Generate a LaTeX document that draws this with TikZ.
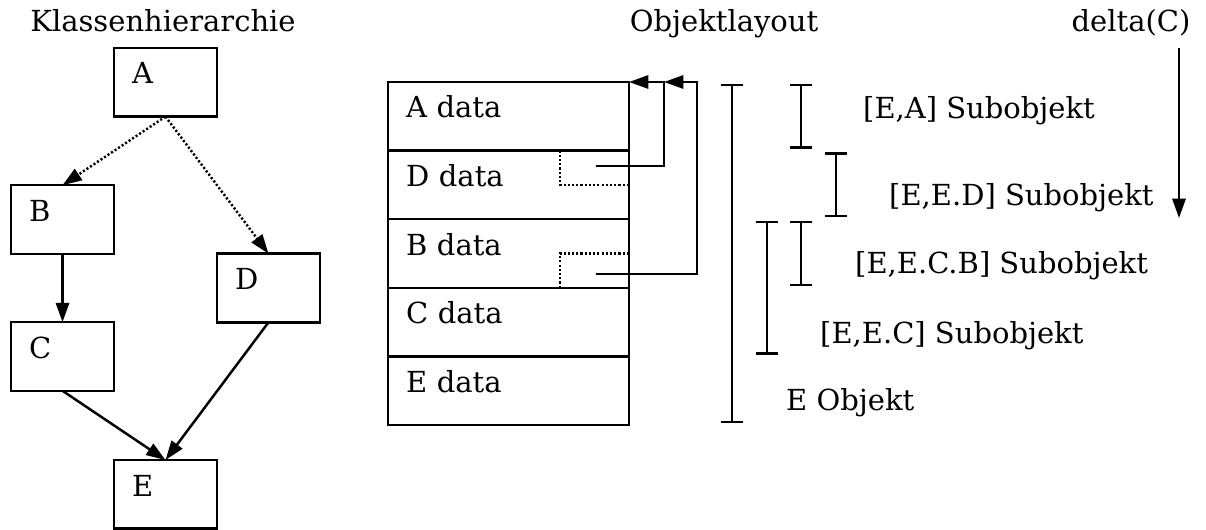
\documentclass[tikz,border=0pt]{standalone}
\usepackage{fontspec}
\setmainfont{DejaVu Serif}
\usetikzlibrary{arrows.meta}
\usetikzlibrary{positioning}
\usetikzlibrary{calc}
\tikzset{x=0.02cm, y=-0.02cm, % one unit is one pixel of the sketch, y runs downwards
         box/.style={ % rectangle with its text in the upper left corner
           draw, rectangle, align=left, outer sep=0pt,
           inner xsep=0.36cm, inner ysep=0pt,
           text height=0.72cm, text depth=0.652cm},
         klasse/.style={box, text width=1.34cm},  % class boxes
         zeile/.style={box, text width=4.1cm},    % rows of the object layout
         spitze/.style={-{Triangle[length=11pt,width=7.5pt]}},
         punkt/.style={dash pattern=on 1.2pt off 1.2pt},
         klammer/.style={{Bar[width=12pt]}-{Bar[width=12pt]},
           shorten >=1pt, shorten <=1pt}}

\begin{document}
\begin{tikzpicture}[line width=1.4pt, font=\fontsize{16.5}{19}\selectfont]
\useasboundingbox (0,0) rectangle (1206,530);

% titles
\node[anchor=base] (tklassen) at (163,32) {Klassenhierarchie};
\node[anchor=base] (tlayout) at (724,32) {Objektlayout};
\node[anchor=base] (tdelta) at (1131,32) {delta(C)};

% class hierarchy
\begin{scope}[every node/.style={klasse}]
    \node (A) at (165.5,82.3) {A};
    \node (B) at (62.5,219.5) {B};
    \node (D) at (268.5,288) {D};
    \node (C) at (62.5,356.5) {C};
    \node (E) at (165.5,494.3) {E};
\end{scope}

\begin{scope}[every edge/.style={draw,spitze}]
    \path (A.south) edge[punkt] (B.north);
    \path (A.south) edge[punkt] (D.north);
    \path (B.south) edge (C.north);
    \path (C.south) edge (E.north);
    \path (D.south) edge (E.north);
\end{scope}

% object layout
\node[zeile] (Adata) at (508.5,116.3) {A data};
\node[zeile, below=0pt of Adata] (Ddata) {D data};
\node[zeile, below=0pt of Ddata] (Bdata) {B data};
\node[zeile, below=0pt of Bdata] (Cdata) {C data};
\node[zeile, below=0pt of Cdata] (Edata) {E data};

% vptr fields
\draw[punkt] (Ddata.east) -| ($(Ddata.north east)+(-69,0)$);
\draw[punkt] (Bdata.east) -| ($(Bdata.south east)+(-69,0)$);

\coordinate (vptrD) at (596,166);
\coordinate (vptrB) at (596,274);
\draw[spitze] (vptrD) -- ++(68,0) |- (Adata.north east);
\draw[spitze] (vptrB) -- ++(101,0) |- ($(Adata.north east)+(35,0)$);

% subobjects
\draw[klammer] (Adata.north -| 732,0) -- (Edata.south -| 732,0);
\draw[klammer] (Adata.north -| 801,0) -- (Adata.south -| 801,0);
\draw[klammer] (Ddata.north -| 836,0) -- (Ddata.south -| 836,0);
\draw[klammer] (Bdata.north -| 767,0) -- (Cdata.south -| 767,0);
\draw[klammer] (Bdata.north -| 801,0) -- (Bdata.south -| 801,0);

\begin{scope}[every node/.style={anchor=base west, inner xsep=0pt}]
    \node (lEA) at (862,119) {[E,A] Subobjekt};
    \node (lED) at (888,206) {[E,E.D] Subobjekt};
    \node (lECB) at (854,273) {[E,E.C.B] Subobjekt};
    \node (lEC) at (819,343) {[E,E.C] Subobjekt};
    \node (lE) at (785,410) {E Objekt};
\end{scope}

% offset direction
\coordinate (dstart) at (1179,48);
\coordinate (dend) at (1179,218);
\draw[spitze] (dstart) -- (dend);
\end{tikzpicture}
\end{document}
